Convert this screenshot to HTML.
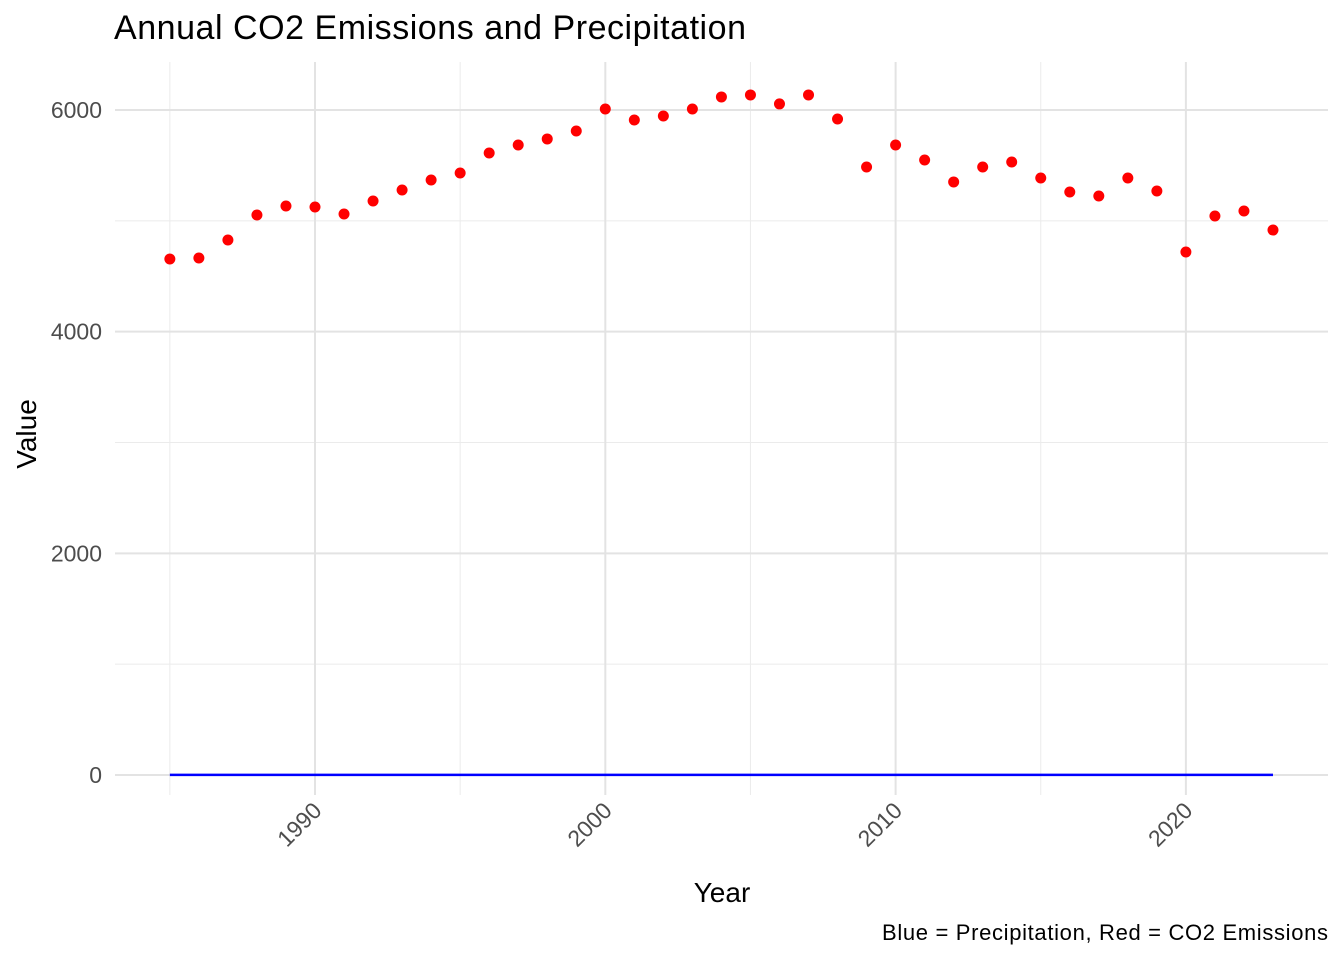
<!DOCTYPE html>
<html><head><meta charset="utf-8"><style>
body{margin:0;background:#fff;}
svg text{font-family:"Liberation Sans",Arial,sans-serif;}
</style></head><body>
<svg id="chart" width="1344" height="960" xmlns="http://www.w3.org/2000/svg">
<text x="114" y="39" font-size="34" textLength="632" fill="#000">Annual CO2 Emissions and Precipitation</text>
<g id="grid"></g>
<g id="axes"></g>
<g id="marks"></g>
<text x="722" y="902" font-size="28" text-anchor="middle" fill="#000">Year</text>
<text transform="translate(36,434) rotate(-90)" font-size="28" text-anchor="middle" fill="#000">Value</text>
<text x="882" y="940" font-size="22" textLength="446" fill="#000">Blue = Precipitation, Red = CO2 Emissions</text>
</svg>
<script>
const years=[1985,1986,1987,1988,1989,1990,1991,1992,1993,1994,1995,1996,1997,1998,1999,2000,2001,2002,2003,2004,2005,2006,2007,2008,2009,2010,2011,2012,2013,2014,2015,2016,2017,2018,2019,2020,2021,2022,2023];
const co2=[4656,4665,4827,5053,5134,5125,5062,5179,5278,5369,5432,5612,5684,5739,5811,6009,5910,5946,6009,6118,6136,6055,6136,5919,5486,5684,5549,5351,5486,5531,5387,5260,5224,5387,5269,4719,5044,5089,4917];
const precip=years.map(()=>1);
const xTicks=[1990,2000,2010,2020];
const xMinor=[1985,1995,2005,2015];
const yTicks=[0,2000,4000,6000];
const yMinor=[1000,3000,5000];
const NS="http://www.w3.org/2000/svg";
const X=v=>315+(v-1990)*29.03;
const Y=v=>775-v*0.11083;
const L=115,R=1328,T=62,B=795;
function mk(tag,attrs,parent){const e=document.createElementNS(NS,tag);for(const k in attrs)e.setAttribute(k,attrs[k]);document.getElementById(parent).appendChild(e);return e;}
yMinor.forEach(v=>{const e=mk('line',{x1:L,x2:R,y1:Y(v),y2:Y(v),stroke:'#ebebeb','stroke-width':1},'grid');

});
xMinor.forEach(v=>{const e=mk('line',{x1:X(v),x2:X(v),y1:T,y2:B,stroke:'#ebebeb','stroke-width':1},'grid');

});
yTicks.forEach(v=>{const e=mk('line',{x1:L,x2:R,y1:Y(v),y2:Y(v),stroke:'#e3e3e3','stroke-width':2},'grid');


const t=mk('text',{x:102,y:Y(v)+8,'font-size':23,'text-anchor':'end',fill:'#4d4d4d'},'axes');t.textContent=v;

});
xTicks.forEach(v=>{const e=mk('line',{x1:X(v),x2:X(v),y1:T,y2:B,stroke:'#e3e3e3','stroke-width':2},'grid');


const t=mk('text',{transform:`translate(${X(v)+8},${812}) rotate(-45)`,'font-size':23,'text-anchor':'end',fill:'#4d4d4d'},'axes');t.textContent=v;

});
const pl=mk('polyline',{points:years.map((y,i)=>X(y)+','+Y(precip[i])).join(' '),fill:'none',stroke:'#0000ff','stroke-width':2.5},'marks');


years.forEach((y,i)=>{const c=mk('circle',{cx:X(y),cy:Y(co2[i]),r:5.5,fill:'#ff0000'},'marks');

});
</script>
</body></html>
